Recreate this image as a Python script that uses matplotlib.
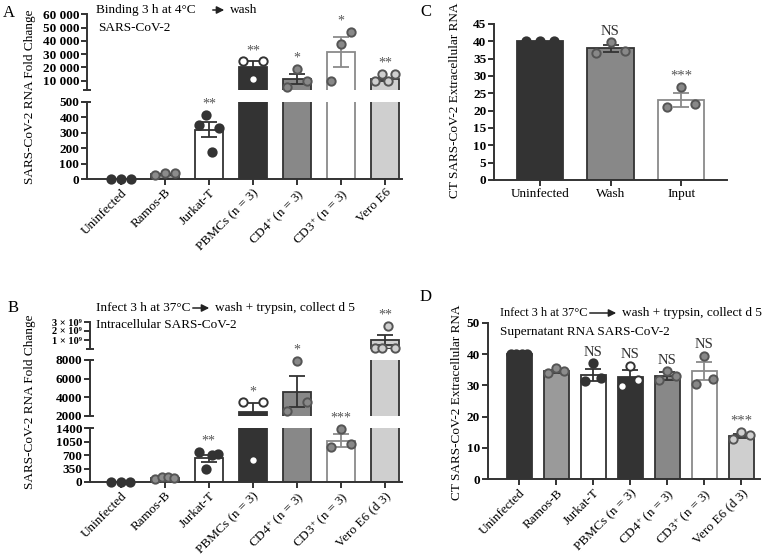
import matplotlib
matplotlib.use('Agg')
import matplotlib.pyplot as plt
from matplotlib.patches import FancyArrowPatch

plt.rcParams['font.family'] = ['Liberation Serif', 'DejaVu Serif']
plt.rcParams['mathtext.fontset'] = 'custom'
plt.rcParams['mathtext.rm'] = 'Liberation Serif'
plt.rcParams['mathtext.bf'] = 'Liberation Serif:bold'
plt.rcParams['mathtext.it'] = 'Liberation Serif:italic'

W, H = 773, 556
DARK = '#333333'

# ---- data ----
A_labels = ['Uninfected', 'Ramos-B', 'Jurkat-T', 'PBMCs (n = 3)',
            'CD4$^{+}$ (n = 3)', 'CD3$^{+}$ (n = 3)', 'Vero E6']
A_means = [0, 30, 320, 20200, 11500, 31500, 11000]
A_sem = [0, 5, 50, 4400, 3800, 11400, 1300]
A_points = [[0, 0, 0], [26, 41, 37], [350, 415, 177, 333],
            [24600, 11300, 24600], [5500, 18800, 10000],
            [9800, 37600, 47000], [10000, 15000, 10000, 15000]]
A_stars = ['', '', '**', '**', '*', '*', '**']

B_labels = ['Uninfected', 'Ramos-B', 'Jurkat-T', 'PBMCs (n = 3)',
            'CD4$^{+}$ (n = 3)', 'CD3$^{+}$ (n = 3)', 'Vero E6 (d 3)']
B_means = [0, 110, 620, 2400, 4600, 1080, 1.0e9]
B_sem = [0, 10, 90, 1000, 1700, 160, 0.6e9]
B_points = [[0, 0, 0], [90, 125, 130, 100], [790, 330, 705, 720],
            [3450, 575, 3450], [2500, 7870, 3500],
            [922, 1384, 985], [0.1e9, 0.1e9, 2.6e9, 0.1e9]]
B_stars = ['', '', '**', '*', '*', '***', '**']

C_labels = ['Uninfected', 'Wash', 'Input']
C_means = [40, 38, 23.2]
C_sem = [0, 1, 2]
C_points = [[40, 40, 40], [36.7, 39.9, 37.3], [21.0, 26.9, 21.8]]
C_stars = ['', 'NS', '***']

D_labels = ['Uninfected', 'Ramos-B', 'Jurkat-T', 'PBMCs (n = 3)',
            'CD4$^{+}$ (n = 3)', 'CD3$^{+}$ (n = 3)', 'Vero E6 (d 3)']
D_means = [40, 34.5, 33.4, 32.8, 33, 34.6, 13.8]
D_sem = [0, 0.5, 1.9, 2, 1.3, 2.8, 0.6]
D_points = [[40, 40, 40, 40], [34, 35.5, 34.5], [31.5, 37, 32.5],
            [29.8, 36.3, 31.7], [31.8, 34.5, 33], [30.5, 39.5, 32],
            [12.8, 15.2, 14.1]]
D_stars = ['', '', 'NS', 'NS', 'NS', 'NS', '***']

# bar fill, bar edge, dot fill, dot edge
STYLE7 = [
    (DARK, DARK, DARK, DARK),
    ('#9a9a9a', DARK, '#8c8c8c', '#555555'),
    ('white', DARK, DARK, DARK),
    (DARK, DARK, 'white', DARK),
    ('#888888', DARK, '#888888', '#555555'),
    ('white', '#8a8a8a', '#888888', '#555555'),
    ('#cfcfcf', DARK, '#cfcfcf', '#555555'),
]
STYLE3 = [
    (DARK, DARK, DARK, DARK),
    ('#888888', DARK, '#888888', '#555555'),
    ('white', '#8a8a8a', '#888888', '#555555'),
]

fig = plt.figure(figsize=(W / 100, H / 100), dpi=100)


def add_ax(x0, y0, x1, y1):
    return fig.add_axes([x0 / W, 1 - y1 / H, (x1 - x0) / W, (y1 - y0) / H])


def offsets(n, spread):
    if n == 1:
        return [0]
    return [-spread + 2 * spread * k / (n - 1) for k in range(n)]


def style_ax(ax, xlim, ylim, ticks, ticklabels, bottom=True, fs=9.5):
    ax.set_xlim(*xlim)
    ax.set_ylim(*ylim)
    for s in ['top', 'right']:
        ax.spines[s].set_visible(False)
    for s in ['left', 'bottom']:
        ax.spines[s].set_linewidth(1.4)
        ax.spines[s].set_color(DARK)
    ax.set_yticks(ticks)
    ax.set_yticklabels(ticklabels, fontsize=fs, fontweight='bold')
    ax.tick_params(axis='both', width=1.4, length=4, color=DARK, pad=1.5)
    if not bottom:
        ax.spines['bottom'].set_visible(False)
        ax.set_xticks([])


def cap(ax, where, half_px=4):
    w = half_px / (ax.get_position().width * W)
    ax.plot([-w, w], [where, where], transform=ax.transAxes, color=DARK,
            lw=1.4, clip_on=False, solid_capstyle='butt')


def draw(ax, means, sems, points, styles, width, lo, hi, spread):
    # only marks that reach into this segment of the axis are drawn
    for i in range(len(means)):
        fc, ec, dfc, dec = styles[i]
        if means[i] > lo:
            ax.bar(i, means[i], width=width, color=fc, edgecolor=ec, linewidth=1.3,
                   zorder=2)
        if sems[i] > 0 and means[i] + sems[i] > lo:
            ax.errorbar(i, means[i], yerr=sems[i], color=ec, capsize=6, capthick=1.3,
                        elinewidth=1.3, zorder=3)
        pts = points[i]
        for o, v in zip(offsets(len(pts), spread), pts):
            if lo <= v <= hi:
                ax.plot(i + o, v, 'o', ms=6, mfc=dfc, mec=dec, mew=1.4,
                        zorder=4, clip_on=False)


def stars(segs, means, sems, points, marks, fs):
    for i, m in enumerate(marks):
        if not m:
            continue
        top = max(points[i] + [means[i] + sems[i]])
        for ax in segs:
            lo, hi = ax.get_ylim()
            if lo <= top <= hi * 1.01:
                ax.annotate(m, (i, top), xytext=(0, 3), textcoords='offset points',
                            ha='center', va='bottom', fontsize=fs,
                            color='#555555' if '*' in m else DARK,
                            annotation_clip=False)
                break


def xlabels(ax, labels, rot=True):
    ax.set_xticks(range(len(labels)))
    if rot:
        ax.set_xticklabels(labels, rotation=45, ha='right', rotation_mode='anchor',
                           fontsize=9.5)
    else:
        ax.set_xticklabels(labels, fontsize=9.5)


def arrow_text(x, y, left, right, arrow_x0, arrow_x1, fs_left=9.5, fs=9.5):
    fig.text(x / W, 1 - y / H, left, fontsize=fs_left, va='center', ha='left')
    fig.add_artist(FancyArrowPatch((arrow_x0 / W, 1 - y / H), (arrow_x1 / W, 1 - y / H),
                                   transform=fig.transFigure, arrowstyle='-|>',
                                   mutation_scale=11, lw=1.1, color='#222222'))
    fig.text((arrow_x1 + 3) / W, 1 - y / H, right, fontsize=fs, va='center', ha='left')


# ---------------- Panel A ----------------
xlimA = (-0.77, 6.39)
a_top = add_ax(87, 14.3, 402, 90)
a_bot = add_ax(87, 102, 402, 179)
top_ticks = [10000, 20000, 30000, 40000, 50000, 60000]
style_ax(a_top, xlimA, (3000, 60000), top_ticks,
         [f'{v:,}'.replace(',', ' ') for v in top_ticks], bottom=False)
style_ax(a_bot, xlimA, (0, 500), [0, 100, 200, 300, 400, 500],
         ['0', '100', '200', '300', '400', '500'])
draw(a_top, A_means, A_sem, A_points, STYLE7, 0.64, 3000, 60000, 0.22)
draw(a_bot, A_means, A_sem, A_points, STYLE7, 0.64, 0, 500, 0.22)
cap(a_top, 0)
cap(a_bot, 1)
xlabels(a_bot, A_labels)
stars([a_bot, a_top], A_means, A_sem, A_points, A_stars, 10)
fig.text(30 / W, 1 - 97 / H, 'SARS-CoV-2 RNA Fold Change', rotation=90,
         ha='center', va='center', fontsize=9.5)
fig.text(3 / W, 1 - 13 / H, 'A', fontsize=12, va='center')
arrow_text(96, 10, 'Binding 3 h at 4°C', 'wash', 210, 227)
fig.text(98 / W, 1 - 28 / H, 'SARS-CoV-2', fontsize=9.5, va='center')

# ---------------- Panel B ----------------
xlimB = (-0.70, 6.39)
b_top = add_ax(90, 322, 402, 349)
b_mid = add_ax(90, 360, 402, 415.7)
b_bot = add_ax(90, 428.3, 402, 482)
style_ax(b_top, xlimB, (0, 3e9), [1e9, 2e9, 3e9],
         ['1 × 10⁹', '2 × 10⁹', '3 × 10⁹'], bottom=False, fs=7.5)
style_ax(b_mid, xlimB, (2000, 8000), [2000, 4000, 6000, 8000],
         ['2000', '4000', '6000', '8000'], bottom=False)
style_ax(b_bot, xlimB, (0, 1400), [0, 350, 700, 1050, 1400],
         ['0', '350', '700', '1050', '1400'])
draw(b_top, B_means, B_sem, B_points, STYLE7, 0.64, 0.05e9, 3e9, 0.22)
draw(b_mid, B_means, B_sem, B_points, STYLE7, 0.64, 1900, 8000, 0.22)
draw(b_bot, B_means, B_sem, B_points, STYLE7, 0.64, 0, 1400, 0.22)
cap(b_top, 0)
cap(b_mid, 0)
cap(b_mid, 1)
cap(b_bot, 1)
xlabels(b_bot, B_labels)
stars([b_bot, b_mid, b_top], B_means, B_sem, B_points, B_stars, 10)
fig.text(30 / W, 1 - 402 / H, 'SARS-CoV-2 RNA Fold Change', rotation=90,
         ha='center', va='center', fontsize=9.5)
fig.text(8 / W, 1 - 308 / H, 'B', fontsize=12, va='center')
arrow_text(96, 308, 'Infect 3 h at 37°C', 'wash + trypsin, collect d 5', 190, 212)
fig.text(96 / W, 1 - 325 / H, 'Intracellular SARS-CoV-2', fontsize=9.5, va='center')

# ---------------- Panel C ----------------
c_ax = add_ax(494, 24, 727, 180)
style_ax(c_ax, (-0.65, 2.65), (0, 45), list(range(0, 50, 5)),
         [str(v) for v in range(0, 50, 5)])
draw(c_ax, C_means, C_sem, C_points, STYLE3, 0.66, 0, 45, 0.2)
xlabels(c_ax, C_labels, rot=False)
stars([c_ax], C_means, C_sem, C_points, C_stars, 10.5)
fig.text(455 / W, 1 - 100 / H, 'CT SARS-CoV-2 Extracellular RNA', rotation=90,
         ha='center', va='center', fontsize=9.5)
fig.text(420 / W, 1 - 12 / H, 'C', fontsize=12, va='center')

# ---------------- Panel D ----------------
d_ax = add_ax(487.7, 322.7, 760, 479.3)
style_ax(d_ax, (-0.85, 6.5), (0, 50), [0, 10, 20, 30, 40, 50],
         ['0', '10', '20', '30', '40', '50'])
draw(d_ax, D_means, D_sem, D_points, STYLE7, 0.68, 0, 50, 0.22)
xlabels(d_ax, D_labels)
stars([d_ax], D_means, D_sem, D_points, D_stars, 10.5)
fig.text(457 / W, 1 - 402 / H, 'CT SARS-CoV-2 Extracellular RNA', rotation=90,
         ha='center', va='center', fontsize=9.5)
fig.text(420 / W, 1 - 297 / H, 'D', fontsize=12, va='center')
arrow_text(500, 313, 'Infect 3 h at 37°C', 'wash + trypsin, collect d 5', 587, 619,
           fs_left=8.8)
fig.text(500 / W, 1 - 332 / H, 'Supernatant RNA SARS-CoV-2', fontsize=9.5, va='center')

fig.savefig('out.png', dpi=100, facecolor='white')
